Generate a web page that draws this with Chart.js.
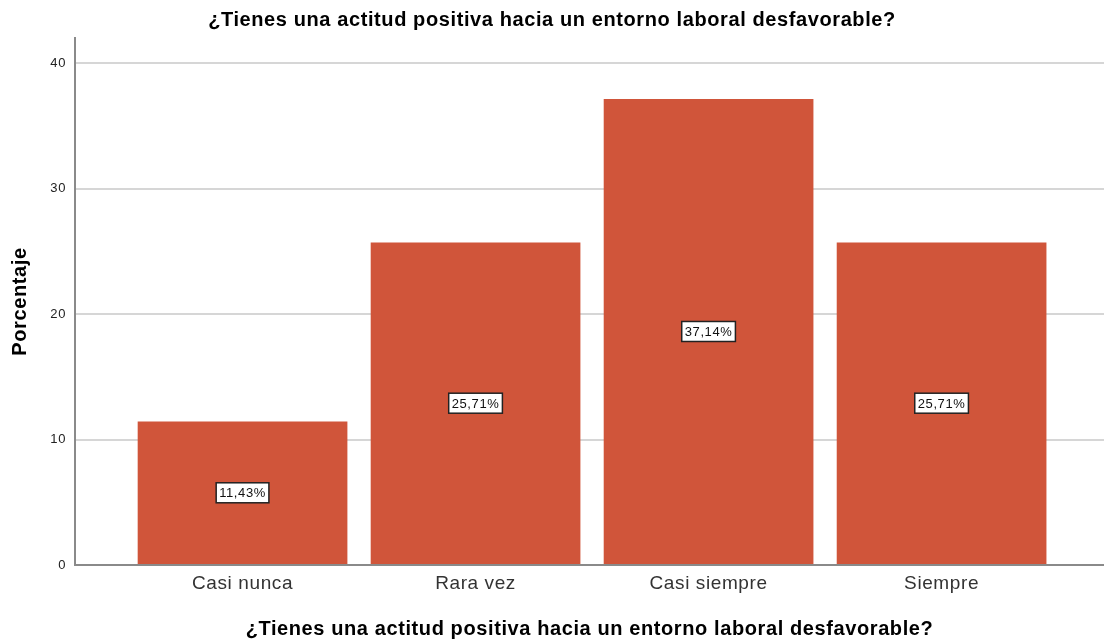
<!DOCTYPE html>
<html>
<head>
<meta charset="utf-8">
<script src="https://cdn.jsdelivr.net/npm/chart.js@4"></script>
<style>
  html, body { margin: 0; padding: 0; background: #fff; }
  #wrap { width: 1104px; height: 644px; }
</style>
</head>
<body>
<div id="wrap"><canvas id="barChart"></canvas></div>
<script>
const chartTitle = '¿Tienes una actitud positiva hacia un entorno laboral desfavorable?';
const categories = ['Casi nunca', 'Rara vez', 'Casi siempre', 'Siempre'];
const percentages = [11.43, 25.71, 37.14, 25.71];
const yTicks = [0, 10, 20, 30, 40];

const barColor = '#d0553a';
const fontFamily = '"Liberation Sans", Arial, sans-serif';
const spacing = '0.6px'; // reference text is a bit looser than Arial

// keep the wider letter spacing on the canvas (resizes reset it)
const textSpacing = {
    id: 'textSpacing',
    beforeLayout(chart) { chart.ctx.letterSpacing = spacing; },
    beforeDraw(chart) { chart.ctx.letterSpacing = spacing; }
};

// white boxed labels in the middle of each bar (SPSS style)
const boxLabels = {
    id: 'boxLabels',
    afterDatasetsDraw(chart) {
        const ctx = chart.ctx;
        const meta = chart.getDatasetMeta(0);
        ctx.save();
        ctx.font = '13px ' + fontFamily;
        ctx.textAlign = 'center';
        ctx.textBaseline = 'middle';
        meta.data.forEach((bar, i) => {
            const text = percentages[i].toFixed(2).replace('.', ',') + '%';
            const cx = bar.x;
            const cy = (bar.y + bar.base) / 2;
            const w = ctx.measureText(text).width + 6;
            const h = 20;
            ctx.fillStyle = '#ffffff';
            ctx.fillRect(cx - w / 2, cy - h / 2, w, h);
            ctx.strokeStyle = '#222';
            ctx.lineWidth = 1.5;
            ctx.strokeRect(cx - w / 2, cy - h / 2, w, h);
            ctx.fillStyle = '#111';
            ctx.fillText(text, cx, cy + 1);
        });
        ctx.restore();
    }
};

const ctx = document.getElementById('barChart').getContext('2d');
new Chart(ctx, {
    type: 'bar',
    data: {
        datasets: [{
            data: percentages.map((v, i) => ({ x: i + 1, y: v })),
            backgroundColor: barColor,
            borderWidth: 0,
            barPercentage: 0.9,
            categoryPercentage: 1
        }]
    },
    options: {
        responsive: true,
        maintainAspectRatio: false,
        animation: false,
        layout: { padding: 0 },
        plugins: {
            legend: { display: false },
            tooltip: { enabled: false },
            title: {
                display: true,
                text: chartTitle,
                color: '#000',
                font: { family: fontFamily, size: 20, weight: 'bold', lineHeight: 1.2 },
                padding: { top: 8, bottom: 6 }
            }
        },
        scales: {
            x: {
                type: 'linear',
                offset: false,
                min: 0.281,
                max: 4.697,
                afterBuildTicks: (scale) => {
                    scale.ticks = categories.map((c, i) => ({ value: i + 1 }));
                },
                afterFit: (scale) => { scale.height = 79; },
                grid: { display: false, drawTicks: false },
                border: { display: true, color: '#8a8a8a', width: 2 },
                ticks: {
                    padding: 7,
                    color: '#333',
                    maxRotation: 0,
                    font: { family: fontFamily, size: 19 },
                    callback: (value) => categories[value - 1] || ''
                },
                title: {
                    display: true,
                    text: chartTitle,
                    color: '#000',
                    font: { family: fontFamily, size: 20, weight: 'bold' },
                    padding: { top: 4, bottom: 3 }
                }
            },
            y: {
                min: 0,
                max: 42,
                afterBuildTicks: (scale) => {
                    scale.ticks = yTicks.map(v => ({ value: v }));
                },
                afterFit: (scale) => { scale.width = 75; },
                grid: { color: '#d6d6d6', lineWidth: 2, drawTicks: false },
                border: { display: true, color: '#8a8a8a', width: 2 },
                ticks: {
                    padding: 9,
                    color: '#222',
                    font: { family: fontFamily, size: 13 }
                },
                title: {
                    display: true,
                    text: 'Porcentaje',
                    color: '#000',
                    font: { family: fontFamily, size: 20, weight: 'bold' },
                    padding: { top: 8, bottom: 0 }
                }
            }
        }
    },
    plugins: [textSpacing, boxLabels]
});
</script>
</body>
</html>
